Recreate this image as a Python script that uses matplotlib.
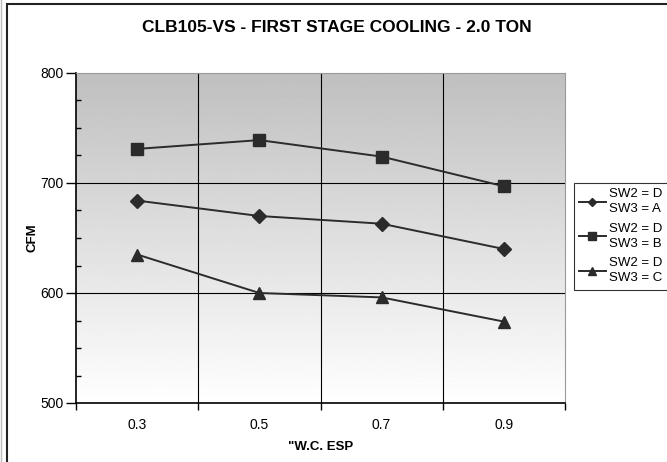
import numpy as np
import matplotlib.pyplot as plt
from matplotlib.patches import Rectangle
from matplotlib.ticker import MultipleLocator

plt.rcParams['font.family'] = ['Liberation Sans', 'DejaVu Sans']

# data
esp = ['0.3', '0.5', '0.7', '0.9']
cfm_a = [684, 670, 663, 640]
cfm_b = [731, 739, 724, 697]
cfm_c = [635, 600, 596, 574]
labels = ['SW2 = D\nSW3 = A', 'SW2 = D\nSW3 = B', 'SW2 = D\nSW3 = C']

fig = plt.figure(figsize=(6.67, 4.62), dpi=100)
ax = fig.add_axes([76/667, 1-403/462, (565-76)/667, (403-73)/462])

# outer chart frame
fig.patches.append(Rectangle((7/667, -0.1), 1.1, (462-4)/462 + 0.1, transform=fig.transFigure,
                             fill=False, edgecolor='#222222', lw=1.5, zorder=0))
fig.add_artist(plt.Line2D([1.5/667, 1.5/667], [0, 1], transform=fig.transFigure,
                          color='#bbbbbb', lw=1))

x = np.arange(len(esp))

# grey-to-white gradient background (top dark, bottom white)
grad = np.linspace(0.75, 1.0, 256).reshape(-1, 1)
ax.imshow(grad, cmap='gray', vmin=0, vmax=1, aspect='auto', origin='upper',
          extent=[-0.5, len(esp) - 0.5, 500, 800], zorder=0)
ax.set_xlim(-0.5, len(esp) - 0.5)
ax.set_ylim(500, 800)

for v in [600, 700]:
    ax.axhline(v, color='black', lw=0.8, zorder=1)
for b in x[:-1] + 0.5:
    ax.axvline(b, color='black', lw=0.8, zorder=1)

col = '#2b2b2b'
ax.plot(x, cfm_a, color=col, lw=1.4, marker='D', ms=7, label=labels[0], zorder=3)
ax.plot(x, cfm_b, color=col, lw=1.4, marker='s', ms=9, label=labels[1], zorder=3)
ax.plot(x, cfm_c, color=col, lw=1.4, marker='^', ms=9, label=labels[2], zorder=3)

ax.set_xticks(np.arange(-0.5, len(esp)), labels=[])
ax.set_xticks(x, labels=esp, minor=True)
ax.tick_params(axis='x', which='major', direction='out', length=5, width=1)
ax.tick_params(axis='x', which='minor', length=0, pad=11, labelsize=10)
ax.set_yticks([500, 600, 700, 800])
ax.yaxis.set_minor_locator(MultipleLocator(25))
ax.tick_params(axis='y', which='major', direction='out', length=7, width=1,
               labelsize=10, pad=2)
ax.tick_params(axis='y', which='minor', direction='in', length=3.5, width=1)

for s in ['top', 'right']:
    ax.spines[s].set_color('#999999')
for s in ['left', 'bottom']:
    ax.spines[s].set_color('black')
    ax.spines[s].set_linewidth(1.2)

ax.set_xlabel('"W.C. ESP', fontsize=9.5, fontweight='bold', labelpad=6)
ax.set_ylabel('CFM', fontsize=9.5, fontweight='bold', labelpad=1)
fig.text(337/667, 1-28/462, 'CLB105-VS - FIRST STAGE COOLING - 2.0 TON',
         ha='center', va='center', fontsize=12.5, fontweight='bold')

leg = ax.legend(loc='upper left', bbox_to_anchor=(574/667, 1-183/462),
                bbox_transform=fig.transFigure, fontsize=9.5, frameon=True,
                fancybox=False, edgecolor='black', handlelength=2.0,
                handletextpad=0.25, borderpad=0.4, labelspacing=0.55,
                borderaxespad=0, markerscale=0.6)
leg.get_frame().set_linewidth(0.8)
for t in leg.get_texts():
    t.set_linespacing(1.35)

fig.savefig('out.png', dpi=100)
